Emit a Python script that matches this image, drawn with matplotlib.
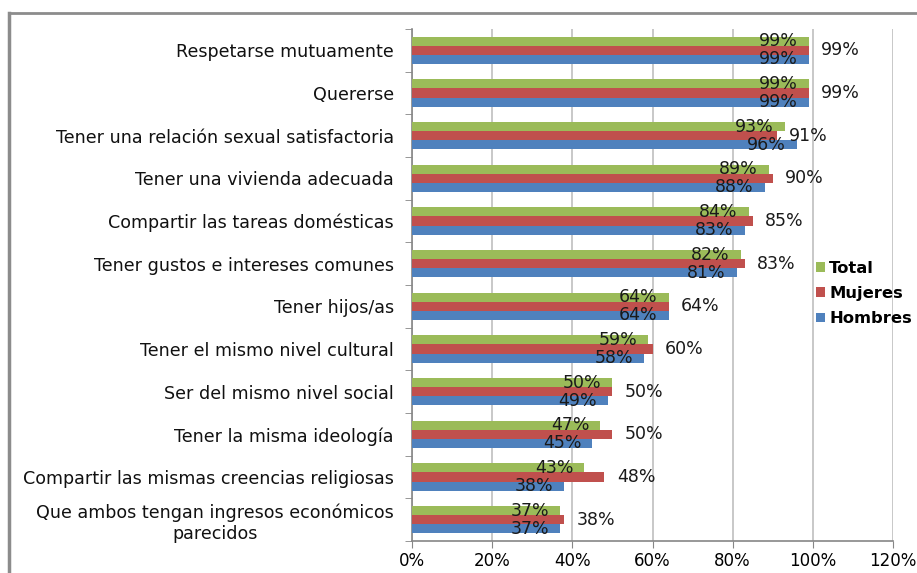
import matplotlib
matplotlib.use("Agg")
import matplotlib.pyplot as plt
from matplotlib.lines import Line2D
import numpy as np

categories = [
    "Respetarse mutuamente",
    "Quererse",
    "Tener una relación sexual satisfactoria",
    "Tener una vivienda adecuada",
    "Compartir las tareas domésticas",
    "Tener gustos e intereses comunes",
    "Tener hijos/as",
    "Tener el mismo nivel cultural",
    "Ser del mismo nivel social",
    "Tener la misma ideología",
    "Compartir las mismas creencias religiosas",
    "Que ambos tengan ingresos económicos\nparecidos",
]
total = [99, 99, 93, 89, 84, 82, 64, 59, 50, 47, 43, 37]
mujeres = [99, 99, 91, 90, 85, 83, 64, 60, 50, 50, 48, 38]
hombres = [99, 99, 96, 88, 83, 81, 64, 58, 49, 45, 38, 37]
xticks = [0, 20, 40, 60, 80, 100, 120]
xticklabels = ["0%", "20%", "40%", "60%", "80%", "100%", "120%"]

C_TOTAL = "#9BBB59"
C_MUJ = "#C0504D"
C_HOM = "#4F81BD"

plt.rcParams['font.family'] = ['DejaVu Sans']

fig = plt.figure(figsize=(9.17, 5.73), dpi=100)
ax = fig.add_axes([412/917, 1-541/573, (893-412)/917, (541-29)/573])

y = np.arange(len(categories))
h = 0.212
b_hom = ax.barh(y + h, hombres, height=h, color=C_HOM, label="Hombres", zorder=3)
b_muj = ax.barh(y, mujeres, height=h, color=C_MUJ, label="Mujeres", zorder=3)
b_tot = ax.barh(y - h, total, height=h, color=C_TOTAL, label="Total", zorder=3)

fs = 12.5
for i in range(len(categories)):
    ax.annotate(f"{total[i]}%", (total[i], y[i] - h), xytext=(-8, 0), textcoords="offset points",
                ha="right", va="center", fontsize=fs, color="#1a1a1a", zorder=4)
    ax.annotate(f"{hombres[i]}%", (hombres[i], y[i] + h), xytext=(-8, 0), textcoords="offset points",
                ha="right", va="center", fontsize=fs, color="#1a1a1a", zorder=4)
    ax.annotate(f"{mujeres[i]}%", (mujeres[i], y[i]), xytext=(9, 0), textcoords="offset points",
                ha="left", va="center", fontsize=fs, color="#1a1a1a", zorder=4)

ax.set_xlim(0, 120)
ax.set_ylim(len(categories) - 0.5, -0.5)

ax.set_xticks(xticks)
ax.set_xticklabels(xticklabels, fontsize=12)
ax.set_yticks(y)
ax.set_yticklabels(categories, fontsize=12.6, multialignment="center", color="#111111")
ax.set_yticks(np.arange(len(categories) + 1) - 0.5, minor=True)
ax.tick_params(axis="y", which="major", length=0, pad=13)
ax.tick_params(axis="y", which="minor", length=5, color="#868686", direction="out")
ax.tick_params(axis="x", length=5, color="#868686", pad=3)

ax.grid(axis="x", color="#BFBFBF", linewidth=1.2, zorder=0)
ax.set_axisbelow(True)
for s in ["top", "right"]:
    ax.spines[s].set_visible(False)
for s in ["left", "bottom"]:
    ax.spines[s].set_color("#868686")
    ax.spines[s].set_linewidth(1.2)

leg = ax.legend(handles=[b_tot, b_muj, b_hom], loc="upper left",
                bbox_to_anchor=(816/917, 1-261/573), bbox_transform=fig.transFigure,
                frameon=False, prop={"weight": "bold", "size": 11.8},
                handlelength=0.55, handleheight=0.55, handletextpad=0.25,
                labelspacing=0.62, borderpad=0, borderaxespad=0)

# figure border
fig.add_artist(Line2D([9/917, 1], [1-13/573, 1-13/573], transform=fig.transFigure,
                      color="#8C8C8C", linewidth=2))
fig.add_artist(Line2D([9/917, 9/917], [0, 1-13/573], transform=fig.transFigure,
                      color="#8C8C8C", linewidth=2.5))

fig.savefig("out.png", dpi=100)
